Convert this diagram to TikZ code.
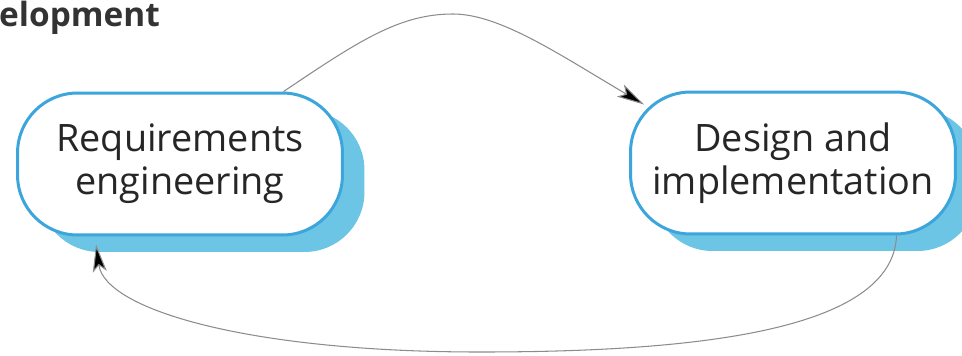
\documentclass[tikz,border=0pt]{standalone}
\usepackage{fontspec}
\setmainfont{Open Sans}
\usetikzlibrary{positioning, arrows.meta, shadows}
\definecolor{boxblue}{HTML}{3BA5DC}
\definecolor{shadeblue}{HTML}{6CC5E4}
\begin{document}
\begin{tikzpicture}[
    x=0.02cm, y=-0.02cm,
    stage/.style={draw=boxblue, line width=1.7pt, fill=white, rounded corners=1.2cm,
        minimum width=6.5cm, minimum height=2.84cm, align=center, text=black!85,
        font=\fontsize{21.5}{24.5}\selectfont,
        drop shadow={shadow xshift=0.44cm, shadow yshift=-0.34cm, fill=shadeblue, opacity=1}},
    flow/.style={draw=black!45, line width=0.6pt, -{Stealth[length=0.55cm, width=0.28cm, inset=0.13cm, fill=black]}},
]
\useasboundingbox (0,0) rectangle (962,355);

\node[anchor=base west, font=\fontsize{19}{23}\selectfont\bfseries, text=black!80] (title) at (-7,27) {elopment};

\node[stage] (req) at (180,164) {Requirements\\engineering};
\node[stage] (des) at (793,163) {Design and\\implementation};

% iterate between the two stages
\draw[flow] (req.35) .. controls (360,40) and (400,14) .. (453,14)
    .. controls (500,14) and (560,55) .. ([shift={(15,14)}]des.north west);
\draw[flow] (des.-35) .. controls (893,330) and (700,352) .. (480,352)
    .. controls (250,352) and (105,310) .. ([shift={(80,8)}]req.south west);
\end{tikzpicture}
\end{document}
